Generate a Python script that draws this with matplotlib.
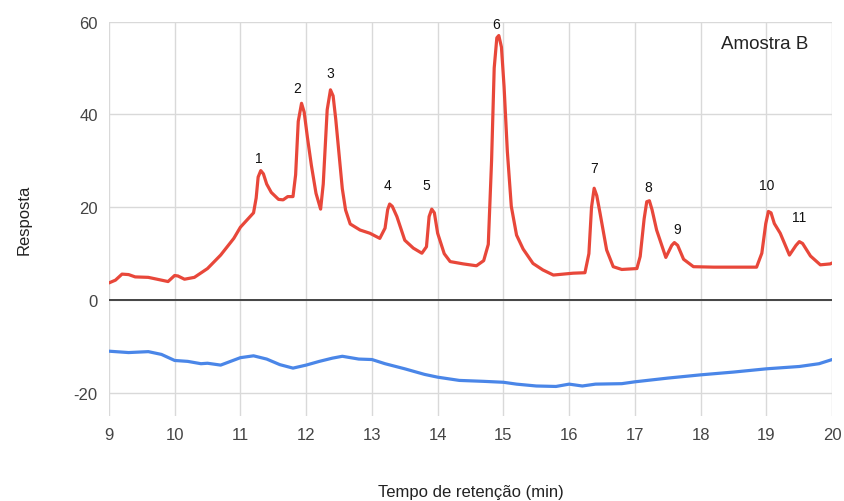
import matplotlib.pyplot as plt

plt.rcParams['font.family'] = ['Liberation Sans', 'DejaVu Sans']
plt.rcParams['axes.unicode_minus'] = False

# amostra B (vermelho)
tempo_b = [9.0, 9.1, 9.2, 9.3, 9.4, 9.6, 9.8, 9.9, 10.0, 10.05, 10.15, 10.3, 10.5, 10.7,
           10.9, 11.0, 11.2, 11.24, 11.27, 11.31, 11.35, 11.4, 11.47, 11.58, 11.65, 11.72,
           11.8, 11.84, 11.88, 11.93, 11.97, 12.02, 12.08, 12.15, 12.22, 12.26, 12.32, 12.37,
           12.41, 12.45, 12.49, 12.55, 12.6, 12.67, 12.82, 12.97, 13.12, 13.2, 13.24, 13.27,
           13.31, 13.38, 13.5, 13.63, 13.76, 13.83, 13.87, 13.91, 13.95, 14.0, 14.1, 14.19,
           14.39, 14.59, 14.7, 14.77, 14.82, 14.86, 14.9, 14.93, 14.97, 15.01, 15.06, 15.12,
           15.2, 15.3, 15.45, 15.6, 15.76, 16.06, 16.24, 16.3, 16.34, 16.38, 16.42, 16.47,
           16.57, 16.67, 16.8, 17.03, 17.08, 17.14, 17.18, 17.22, 17.26, 17.33, 17.47, 17.56,
           17.6, 17.65, 17.74, 17.89, 18.2, 18.85, 18.93, 18.99, 19.03, 19.07, 19.12, 19.21,
           19.35, 19.45, 19.5, 19.55, 19.67, 19.82, 19.97, 20.0]
resposta_b = [3.7, 4.3, 5.6, 5.5, 5.0, 4.9, 4.3, 4.0, 5.3, 5.2, 4.5, 4.9, 6.8, 9.7,
              13.3, 15.7, 18.8, 22.0, 26.5, 27.9, 27.2, 25.0, 23.2, 21.7, 21.6, 22.3,
              22.3, 27.0, 38.5, 42.4, 40.5, 35.0, 29.0, 23.0, 19.6, 25.0, 41.0, 45.3,
              44.0, 39.0, 33.0, 24.0, 19.4, 16.4, 15.1, 14.4, 13.3, 15.5, 19.5, 20.7,
              20.2, 18.0, 12.9, 11.2, 10.1, 11.5, 18.0, 19.6, 18.8, 14.4, 10.0, 8.3,
              7.8, 7.4, 8.5, 12.0, 30.0, 50.0, 56.5, 57.0, 54.5, 46.0, 32.0, 20.2,
              14.0, 11.0, 7.9, 6.5, 5.4, 5.8, 5.9, 10.0, 20.0, 24.1, 22.5, 18.7,
              10.8, 7.2, 6.6, 6.8, 9.4, 17.5, 21.2, 21.4, 19.5, 15.1, 9.2, 11.8,
              12.4, 11.8, 8.8, 7.2, 7.1, 7.1, 10.1, 16.5, 19.1, 18.8, 16.5, 14.4,
              9.7, 11.8, 12.6, 12.2, 9.5, 7.6, 7.8, 8.0]

# branco (azul)
tempo_br = [9.0, 9.3, 9.6, 9.8, 10.0, 10.2, 10.4, 10.5, 10.7, 10.85, 11.0, 11.2, 11.4,
            11.6, 11.8, 12.0, 12.2, 12.4, 12.55, 12.8, 13.0, 13.2, 13.5, 13.8, 14.0,
            14.33, 14.7, 15.0, 15.2, 15.5, 15.8, 16.0, 16.2, 16.4, 16.8, 17.0, 17.5,
            18.0, 18.5, 19.0, 19.5, 19.8, 20.0]
resposta_br = [-11.0, -11.3, -11.1, -11.7, -13.0, -13.2, -13.7, -13.6, -14.0, -13.2, -12.4,
               -12.0, -12.7, -13.9, -14.65, -14.0, -13.2, -12.5, -12.1, -12.7, -12.8, -13.7,
               -14.8, -16.0, -16.6, -17.3, -17.5, -17.7, -18.1, -18.5, -18.6, -18.1, -18.5,
               -18.1, -18.0, -17.6, -16.8, -16.1, -15.5, -14.8, -14.3, -13.7, -12.8]

# numeros dos picos
picos = ['1', '2', '3', '4', '5', '6', '7', '8', '9', '10', '11']
picos_x = [11.28, 11.86, 12.36, 13.23, 13.83, 14.89, 16.38, 17.21, 17.64, 19.01, 19.5]
picos_y = [30.7, 45.8, 49.0, 24.7, 24.7, 59.5, 28.5, 24.3, 15.4, 24.7, 17.8]

fig = plt.figure(figsize=(8.44, 5.02), dpi=100)
ax = fig.add_axes([0.129, 0.169, 0.857, 0.786])

ax.plot(tempo_br, resposta_br, color='#4a86e8', lw=2.3, solid_capstyle='round')
ax.plot(tempo_b, resposta_b, color='#e8473a', lw=2.3, solid_capstyle='round',
        solid_joinstyle='round')

for t, px, py in zip(picos, picos_x, picos_y):
    ax.text(px, py, t, ha='center', va='center', fontsize=10, color='#111111')

ax.text(0.967, 0.945, 'Amostra B', transform=ax.transAxes, ha='right', va='center',
        fontsize=13.5, color='#222222')

ax.set_xlim(9, 20)
ax.set_ylim(-25, 60)
ax.set_xticks(range(9, 21))
ax.set_yticks([-20, 0, 20, 40, 60])
ax.grid(True, color='#d9d9d9', lw=1)
ax.axhline(0, color='#444444', lw=1.4)
for s in ax.spines.values():
    s.set_visible(False)
ax.tick_params(length=0, labelsize=12, labelcolor='#444444', pad=8)
ax.set_xlabel('Tempo de retenção (min)', fontsize=12, color='#222222', labelpad=30)
ax.set_ylabel('Resposta', fontsize=12, color='#222222', labelpad=30)

fig.savefig('out.png', dpi=100)
